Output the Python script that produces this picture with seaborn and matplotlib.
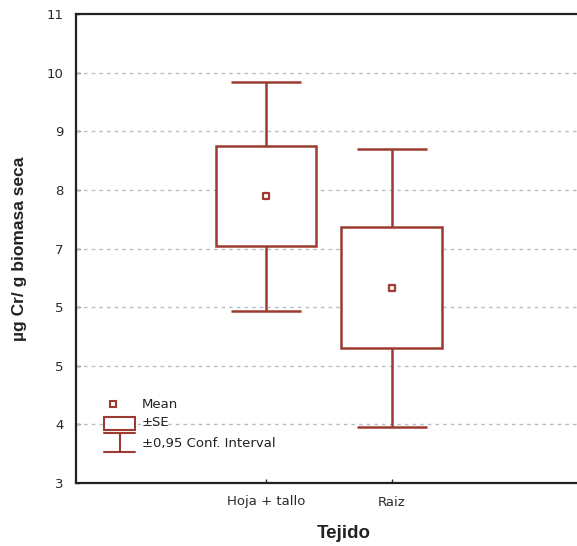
import matplotlib
matplotlib.use("Agg")
import matplotlib.pyplot as plt
import seaborn as sns
import pandas as pd
from matplotlib.patches import Rectangle
from matplotlib.lines import Line2D

# values
tejidos = ["Hoja + tallo", "Raiz"]
medias = [7.89, 6.33]
se = [0.85, 1.03]
ic95 = [1.95, 2.37]
y_ticks = [3, 4, 5, 6, 7, 8, 9, 10, 11]
y_ticklabels = ["3", "4", "5", "5", "7", "8", "9", "10", "11"]

ROJO = "#9c3b30"

sns.set_style("ticks")
plt.rcParams["font.family"] = ["DejaVu Sans"]

df = pd.DataFrame({"Tejido": tejidos, "media": medias, "se": se, "ic": ic95})
pos = list(range(len(tejidos)))

fig = plt.figure(figsize=(5.77, 5.46), dpi=100)
ax = fig.add_axes([76 / 577, 63 / 546, 536 / 577, 469 / 546])

# whiskers (+-0.95 conf. interval)
ax.vlines(pos, df["media"] - df["ic"], df["media"] + df["ic"], color=ROJO, lw=1.8, zorder=2)
for lim in (df["media"] - df["ic"], df["media"] + df["ic"]):
    ax.hlines(lim, [p - 0.28 for p in pos], [p + 0.28 for p in pos], color=ROJO, lw=1.8, zorder=2)

# boxes (+-SE)
ax.bar(pos, 2 * df["se"], bottom=df["media"] - df["se"], width=0.8,
       facecolor="white", edgecolor=ROJO, linewidth=1.8, zorder=3)

# mean markers
sns.scatterplot(x=pos, y=df["media"], marker="s", s=22, facecolor="white",
                edgecolor=ROJO, linewidth=1.6, zorder=4, ax=ax, legend=False)

ax.set_xlim(-1.51, 2.75)
ax.set_ylim(3, 11)
ax.set_xticks(pos)
ax.set_xticklabels(tejidos, fontsize=9.5)
ax.set_yticks(y_ticks)
ax.set_yticklabels(y_ticklabels, fontsize=9.5)
ax.tick_params(direction="in", length=3, width=1, colors="#2a2a2a", pad=9)
ax.set_xlabel("Tejido", fontsize=13.5, fontweight="bold", labelpad=12, color="#222222",
              family=["Liberation Sans", "DejaVu Sans"])
ax.set_ylabel("µg Cr/ g biomasa seca", fontsize=12.5, fontweight="bold", labelpad=14,
              color="#222222", family=["Liberation Sans", "DejaVu Sans"])

for yv in y_ticks[1:-1]:
    ax.axhline(yv, color="#b3bec6", lw=1, ls=(0, (2.5, 3)), zorder=1)

for s in ax.spines.values():
    s.set_linewidth(1.6)
    s.set_color("#222222")

# legend drawn by hand, like the original
tr = ax.transAxes
ax.add_patch(Rectangle((0.0695 - 0.006, 0.168 - 0.007), 0.012, 0.014, transform=tr,
                       facecolor="white", edgecolor=ROJO, lw=1.5, zorder=5))
ax.add_patch(Rectangle((0.0522, 0.113), 0.058, 0.028, transform=tr,
                       facecolor="white", edgecolor=ROJO, lw=1.5, zorder=5))
ax.add_line(Line2D([0.0522, 0.1102], [0.1066, 0.1066], transform=tr, color=ROJO, lw=1.5))
ax.add_line(Line2D([0.0522, 0.1102], [0.0661, 0.0661], transform=tr, color=ROJO, lw=1.5))
ax.add_line(Line2D([0.0812, 0.0812], [0.0661, 0.1066], transform=tr, color=ROJO, lw=1.5))
for ty, txt in zip([0.168, 0.128, 0.085], ["Mean", "±SE", "±0,95 Conf. Interval"]):
    ax.text(0.123, ty, txt, transform=tr, fontsize=9.5, va="center", color="#222222")

fig.savefig("out.png", dpi=100)
